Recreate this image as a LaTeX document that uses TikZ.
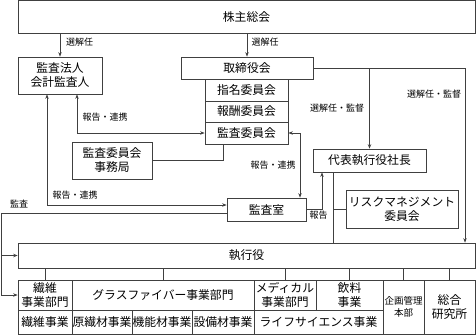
\documentclass[tikz,border=0pt]{standalone}
\usepackage{fontspec}
\newfontfamily\jpfont{Noto Sans CJK JP}
\usetikzlibrary{arrows.meta}

\begin{document}
\begin{tikzpicture}[x=1pt,y=-1pt,>={Stealth[length=4.5pt,width=3.5pt]},line width=0.7pt,draw=black!75,
  box/.style={draw=black!75,inner sep=0pt,align=center,font=\jpfont\fontsize{11.8}{14}\selectfont},
  lbl/.style={inner sep=0pt,font=\jpfont\fontsize{9}{10}\selectfont}]
\useasboundingbox (0,0) rectangle (476,335);
\node[box,minimum width=457,minimum height=32.5] (soukai) at (246.5,16.75) {株主総会};
\node[box,minimum width=84,minimum height=37] (houjin) at (60,75.5) {監査法人\\会計監査人};
\node[box,minimum width=132,minimum height=22] (torishimari) at (247,68) {取締役会};
\node[box,minimum width=83,minimum height=22] (shimei) at (246.5,90) {指名委員会};
\node[box,minimum width=83,minimum height=21] (houshuu) at (246.5,111.5) {報酬委員会};
\node[box,minimum width=83,minimum height=22] (kansaiin) at (246.5,133) {監査委員会};
\node[box,minimum width=80,minimum height=37] (jimukyoku) at (112,160.5) {監査委員会\\事務局};
\node[box,minimum width=113,minimum height=23] (shachou) at (369.5,160.5) {代表執行役社長};
\node[box,minimum width=79,minimum height=23] (kansashitsu) at (266.5,209.5) {監査室};
\node[box,minimum width=112,minimum height=38] (risk) at (402,209) {リスクマネジメント\\委員会};
\node[box,minimum width=457,minimum height=25] (shikkou) at (246.5,255.5) {執行役};
\node[box,minimum width=54,minimum height=30] (seni) at (45,295) {繊維\\事業部門};
\node[box,minimum width=182,minimum height=30] (glass) at (163,295) {グラスファイバー事業部門};
\node[box,minimum width=62,minimum height=30] (medical) at (285,295) {メディカル\\事業部門};
\node[box,minimum width=67,minimum height=30] (inryou) at (349.5,295) {飲料\\事業};
\node[box,minimum width=41,minimum height=54,font=\jpfont\fontsize{9.5}{12}\selectfont] (kikaku) at (403.5,307) {企画管理\\本部};
\node[box,minimum width=51,minimum height=54] (souken) at (449.5,307) {総合\\研究所};
\node[box,minimum width=54,minimum height=24] (senijigyou) at (45,322) {繊維事業};
\node[box,minimum width=60,minimum height=24] (gensen) at (102,322) {原繊材事業};
\node[box,minimum width=60,minimum height=24] (kinou) at (162,322) {機能材事業};
\node[box,minimum width=62,minimum height=24] (setsubi) at (223,322) {設備材事業};
\node[box,minimum width=129,minimum height=24] (life) at (318.5,322) {ライフサイエンス事業};
\draw[->] (houjin.north |- soukai.south) -- (houjin.north);
\draw[->] (torishimari.north |- soukai.south) -- (torishimari.north);
\draw[<->] ([xshift=17pt]houjin.south) |- (kansaiin.west);
\draw[<->] ([xshift=-13pt]houjin.south) |- ([yshift=4.5pt]kansashitsu.west);
\draw (jimukyoku.east) -| ([xshift=-23.5pt]kansaiin.south);
\draw[<->] (kansaiin.east) -| ([xshift=33.5pt]kansashitsu.north);
\draw[->] (kansashitsu.east) -| ([xshift=-47.5pt]shachou.south);
\draw[->] (torishimari.east) -| ([xshift=218.5pt]shikkou.north);
\draw[->] (shachou.north |- torishimari.east) -- (shachou.north);
\coordinate (shachoubottom) at ([xshift=-36.5pt]shachou.south);
\draw (shachoubottom) -- (shachoubottom |- shikkou.north);
\draw (risk.west) -- (risk.west -| shachoubottom);
\coordinate (hidari) at (1,213);
\draw[->] ([yshift=-3.5pt]kansashitsu.west) -- (hidari) |- (seni.west);
\draw[->] (hidari |- shikkou.west) -- (shikkou.west);
\foreach \n in {seni,glass,medical,inryou,kikaku,souken}
  \draw (\n.north) -- (\n.north |- shikkou.south);
\node[lbl] (l1) at (79.5,42) {選解任};
\node[lbl] (l2) at (265,42) {選解任};
\node[lbl] (l3) at (105,117) {報告・連携};
\node[lbl] (l4) at (75,195) {報告・連携};
\node[lbl] (l5) at (19,204) {監査};
\node[lbl] (l6) at (273,165) {報告・連携};
\node[lbl] (l7) at (318.5,215) {報告};
\node[lbl] (l8) at (337,108) {選解任・監督};
\node[lbl] (l9) at (434,94) {選解任・監督};
\end{tikzpicture}
\end{document}
